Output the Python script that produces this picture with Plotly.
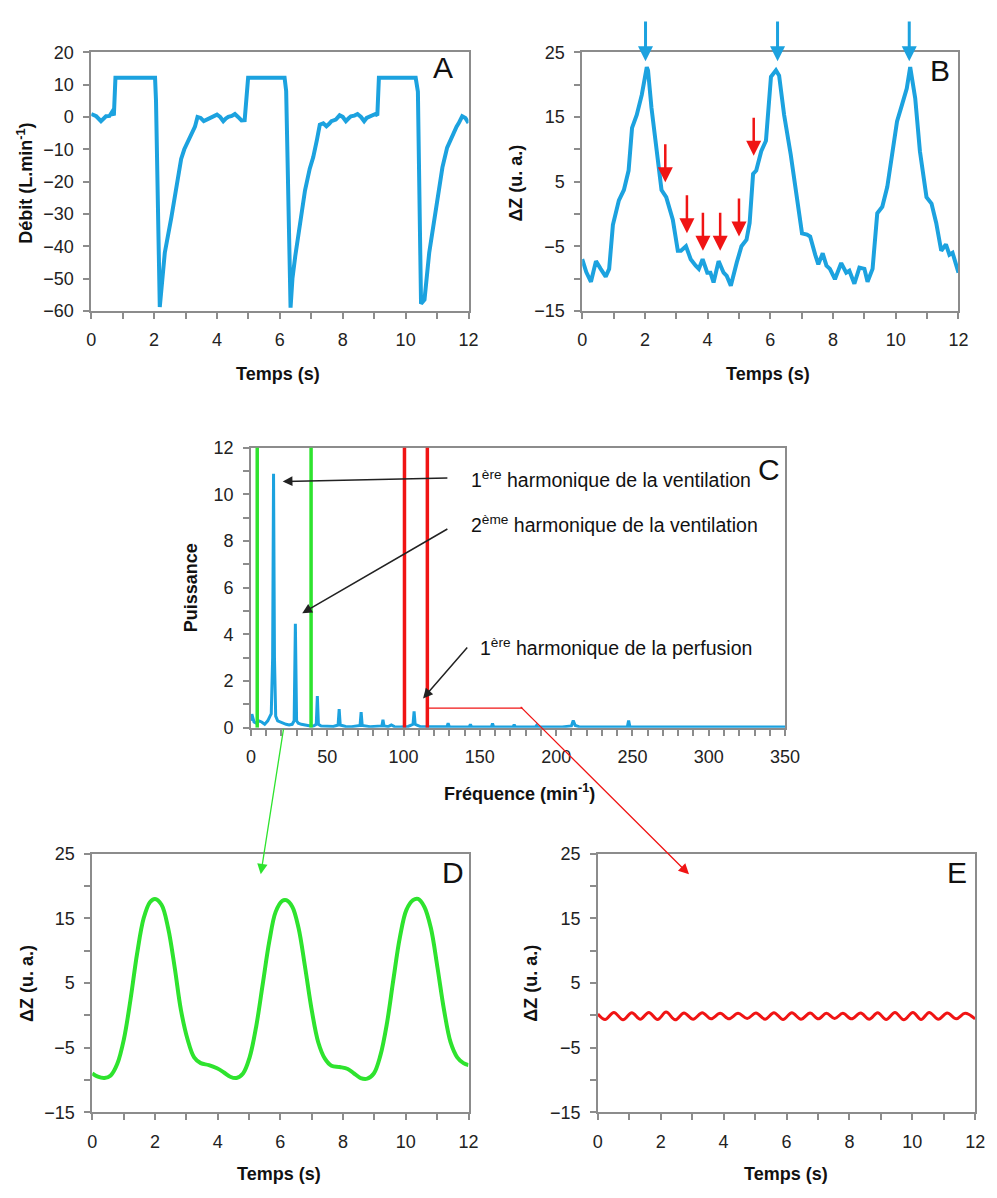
import plotly.graph_objects as go

# ---------------- data ----------------
# Panel A : flow (L/min) vs time (s)
a_t = [0, 0.16, 0.31, 0.47, 0.58, 0.66, 0.72, 0.77, 2.03, 2.06, 2.18, 2.25, 2.34, 2.55, 2.75, 2.86, 2.96,
       3.10, 3.22, 3.30, 3.38, 3.48, 3.58, 3.69, 3.79, 3.90, 4.00, 4.10, 4.20, 4.28, 4.36, 4.47, 4.57,
       4.67, 4.78, 4.88, 4.93, 4.99, 6.15, 6.20, 6.34, 6.40, 6.49, 6.65, 6.80, 6.95, 7.06, 7.18, 7.27,
       7.38, 7.48, 7.56, 7.64, 7.78, 7.90, 8.00, 8.10, 8.18, 8.26, 8.37, 8.47, 8.58, 8.68, 8.76, 8.83,
       8.94, 9.04, 9.10, 9.15, 10.32, 10.39, 10.49, 10.60, 10.75, 10.96, 11.17, 11.32, 11.43, 11.53,
       11.62, 11.69, 11.80, 11.90, 12.0]
a_v = [0.9, 0.2, -1.3, 0.2, 0.3, 1.5, 0.5, 12.1, 12.1, 5, -58.8, -50, -42, -31, -20, -13, -10,
       -7, -4.4, -3, 0, -0.3, -1.3, -0.8, -0.3, 0, 0.7, 0, -1.3, -0.5, 0, 0.3, 0.9,
       0, -1.1, -1.0, 5, 12.1, 12.1, 8, -59, -50, -43, -32, -22.7, -16, -12.5, -7, -2.4,
       -2, -2.9, -2.2, -1.3, -0.8, 0.5, 0, -1.3, -0.5, 0.2, 0.4, 0.9, 0, -1.3, -0.3, 0,
       0.3, 0.9, 0.5, 12.1, 12.1, 7.8, -57.8, -56.5, -42, -27.8, -15.6, -9.5, -7, -4.4,
       -3, -1.9, 0.2, -0.3, -1.9]

# Panel B : impedance variation (u.a.) vs time (s)
b_t = [0, 0.13, 0.28, 0.44, 0.59, 0.75, 0.86, 0.98, 1.17, 1.33, 1.48, 1.59, 1.74, 1.90, 2.06, 2.10,
       2.21, 2.37, 2.53, 2.68, 2.89, 3.05, 3.15, 3.31, 3.46, 3.62, 3.72, 3.84, 3.99, 4.09, 4.19, 4.35,
       4.51, 4.61, 4.74, 4.93, 5.08, 5.24, 5.34, 5.45, 5.55, 5.71, 5.86, 6.02, 6.18, 6.28, 6.44, 6.65,
       6.86, 7.01, 7.17, 7.27, 7.43, 7.53, 7.67, 7.79, 7.90, 8.06, 8.26, 8.42, 8.52, 8.68, 8.84, 9.00,
       9.10, 9.26, 9.41, 9.57, 9.73, 9.88, 10.04, 10.20, 10.35, 10.46, 10.62, 10.77, 10.98, 11.14,
       11.29, 11.45, 11.60, 11.71, 11.81, 12.0]
b_v = [-7.0, -9.0, -10.5, -7.3, -8.5, -9.7, -8.5, -1.7, 2.1, 3.7, 6.7, 13.3, 15.3, 18.4, 22.7, 22.2,
       16.4, 10.3, 3.7, 2.6, -0.9, -5.7, -5.7, -5.0, -7.0, -8.0, -8.5, -7.0, -9.1, -9.1, -10.6, -7.3,
       -9.1, -9.6, -11.1, -7.5, -5.0, -4.0, -1.4, 6.2, 6.7, 9.7, 11.3, 21.2, 22.2, 21.4, 15.3, 9.2,
       2.6, -3.0, -3.2, -3.5, -6.3, -7.8, -6.1, -8.0, -8.5, -10.1, -7.6, -9.1, -8.8, -10.8, -8.3, -8.5,
       -10.5, -8.5, 0.1, 1.1, 4.2, 9.2, 14.3, 16.9, 19.4, 22.7, 17.9, 9.7, 2.6, 1.6,
       -1.4, -5.7, -4.7, -6.3, -6.0, -9.1]
b_peak_t = [2.02, 6.23, 10.43]            # blue arrows (peaks)
b_cardiac_t = [2.65, 3.34, 3.85, 4.40, 5.00, 5.47]   # red arrows (cardiac beats)
b_cardiac_v = [4.9, -3.0, -5.7, -5.7, -3.5, 9.0]

# Panel C : power spectrum
c_f = [0, 0.6, 2, 3.5, 5, 7, 9, 11, 12.5, 13.3, 14.2, 14.8, 15.4, 16.2, 17.5, 19, 21, 23, 25, 27,
       28.3, 29.1, 29.9, 31, 33, 35, 37, 39, 41, 42.8, 43.5, 44.2, 46, 50, 54, 57.1, 57.8, 58.5, 62,
       66, 71.5, 72.2, 72.9, 78, 82, 85.8, 86.5, 87.2, 90, 92, 94, 98, 103, 106.2, 106.9, 107.6, 111,
       118, 124, 128.5, 129.2, 130, 136, 143, 143.8, 144.6, 152, 157.6, 158.3, 159, 166, 171.8, 172.5,
       173.2, 180, 186.5, 187.2, 188, 196, 204, 210, 211.2, 212.5, 215, 225, 235, 246.7, 247.5, 248.3,
       255, 270, 290, 310, 330, 350]
c_p = [0.3, 0.58, 0.25, 0.2, 0.3, 0.25, 0.15, 0.3, 0.5, 0.6, 3.0, 10.88, 3.0, 0.5, 0.3, 0.25, 0.2,
       0.15, 0.12, 0.15, 0.3, 4.46, 0.3, 0.2, 0.15, 0.12, 0.1, 0.08, 0.08, 0.15, 1.36, 0.15, 0.08,
       0.06, 0.06, 0.12, 0.8, 0.12, 0.06, 0.05, 0.1, 0.67, 0.1, 0.05, 0.05, 0.08, 0.35, 0.08, 0.05,
       0.12, 0.05, 0.04, 0.06, 0.15, 0.7, 0.15, 0.05, 0.04, 0.04, 0.05, 0.2, 0.05, 0.04, 0.04, 0.14,
       0.04, 0.04, 0.05, 0.18, 0.05, 0.04, 0.04, 0.14, 0.04, 0.03, 0.04, 0.1, 0.04, 0.03, 0.04, 0.08,
       0.31, 0.1, 0.05, 0.03, 0.03, 0.05, 0.31, 0.05, 0.03, 0.03, 0.03, 0.03, 0.03, 0.03]
green_band = [4.1, 39.4]     # ventilation filter band (min-1)
red_band = [100.6, 115.6]    # perfusion filter band (min-1)
c_labels = ["1<sup>ère</sup> harmonique de la ventilation",
            "2<sup>ème</sup> harmonique de la ventilation",
            "1<sup>ère</sup> harmonique de la perfusion"]
c_label_pos = [(142.6, 10.65), (142.6, 8.72), (149.0, 3.45)]
c_arrow_tip = [(20.8, 10.55), (33.6, 4.91), (112.8, 1.26)]
c_arrow_tail = [(129.7, 10.70), (129.7, 8.55), (142.6, 3.50)]

# Panel D : ventilation-filtered signal
d_t = [0, 0.18, 0.39, 0.59, 0.80, 1.01, 1.22, 1.43, 1.64, 1.84, 2.00, 2.21, 2.42, 2.63, 2.83, 3.04,
       3.25, 3.46, 3.72, 3.98, 4.19, 4.40, 4.60, 4.81, 5.02, 5.23, 5.44, 5.65, 5.85, 6.06, 6.19, 6.38,
       6.58, 6.79, 7.00, 7.21, 7.42, 7.63, 7.89, 8.15, 8.35, 8.56, 8.77, 8.98, 9.19, 9.40, 9.60, 9.81,
       10.02, 10.23, 10.39, 10.59, 10.80, 11.01, 11.22, 11.43, 11.64, 11.84, 12.0]
d_v = [-9.0, -9.5, -9.7, -9.3, -7.5, -3.7, 2.4, 9.5, 15.0, 17.5, 18.0, 17.1, 13.5, 7.4, 0.8, -3.7,
       -6.5, -7.4, -7.7, -8.2, -8.8, -9.5, -9.7, -9.0, -6.5, -1.7, 4.9, 11.5, 16.0, 17.7, 17.8, 16.8,
       13.5, 7.4, 0.8, -4.2, -6.7, -7.8, -8.0, -8.3, -9.0, -9.7, -9.8, -9.0, -6.2, -1.2, 5.4, 12.0,
       16.3, 17.8, 18.0, 16.8, 13.5, 7.4, 0.8, -4.2, -6.5, -7.4, -7.7]

# Panel E : perfusion-filtered signal
e_t = [0, 0.23, 0.51, 0.80, 1.08, 1.35, 1.62, 1.90, 2.17, 2.46, 2.74, 3.03, 3.32, 3.60, 3.89, 4.17,
       4.46, 4.75, 5.03, 5.32, 5.60, 5.89, 6.17, 6.46, 6.75, 7.01, 7.27, 7.53, 7.79, 8.07, 8.36, 8.63,
       8.90, 9.17, 9.45, 9.73, 10.02, 10.28, 10.54, 10.83, 11.11, 11.40, 11.68, 12.0]
e_v = [0.2, -0.65, 0.45, -0.7, 0.4, -0.6, 0.45, -0.65, 0.5, -0.7, 0.35, -0.6, 0.4, -0.55, 0.3, -0.55,
       0.3, -0.5, 0.35, -0.6, 0.4, -0.65, 0.4, -0.6, 0.35, -0.55, 0.3, -0.5, 0.3, -0.55, 0.35, -0.6,
       0.4, -0.65, 0.45, -0.7, 0.45, -0.65, 0.45, -0.6, 0.35, -0.55, 0.3, -0.55]

# ---------------- style ----------------
W, H = 997, 1198
BLUE = "#1ca2df"
GREEN = "#2ee32e"
RED = "#f01414"
GREY = "#8c8c8c"
FONT = "Liberation Sans, Arial, sans-serif"
TICKFONT = dict(family=FONT, size=18, color="#222222")


def px(x, y):
    return x / W, 1 - y / H


# plot boxes in pixels: left, right, top, bottom
boxes = {
    "A": (88, 473, 43, 306),
    "B": (589, 973, 43, 306),
    "C": (251, 796, 445, 730),
    "D": (89, 473, 858, 1121),
    "E": (605, 990, 858, 1121),
}


def dom(key):
    l, r, t, b = boxes[key]
    return [l / W, r / W], [1 - b / H, 1 - t / H]


fig = go.Figure()
fig.add_trace(go.Scatter(x=a_t, y=a_v, mode="lines", line=dict(color=BLUE, width=4), xaxis="x", yaxis="y"))
fig.add_trace(go.Scatter(x=b_t, y=b_v, mode="lines", line=dict(color=BLUE, width=4), xaxis="x2", yaxis="y2"))
fig.add_trace(go.Scatter(x=c_f, y=c_p, mode="lines", line=dict(color=BLUE, width=3), xaxis="x3", yaxis="y3"))
fig.add_trace(go.Scatter(x=d_t, y=d_v, mode="lines", line=dict(color=GREEN, width=4, shape="spline"),
                         xaxis="x4", yaxis="y4"))
fig.add_trace(go.Scatter(x=e_t, y=e_v, mode="lines", line=dict(color=RED, width=3, shape="spline"),
                         xaxis="x5", yaxis="y5"))


def xaxis(key, rng, dtick, minor_dtick, anchor):
    d, _ = dom(key)
    ax = dict(domain=d, range=rng, anchor=anchor, showline=True, mirror=True, linecolor=GREY, linewidth=1.5,
              ticks="outside", ticklen=6, tickcolor=GREY, tickwidth=1.5, dtick=dtick, tick0=0,
              showgrid=False, zeroline=False, tickfont=TICKFONT, ticklabelstandoff=6, fixedrange=True)
    if minor_dtick:
        ax["minor"] = dict(dtick=minor_dtick, tick0=0, ticks="outside", ticklen=6, tickcolor=GREY,
                           tickwidth=1.5, showgrid=False)
    return ax


def yaxis(key, rng, dtick, tick0, minor_dtick, anchor):
    _, d = dom(key)
    ax = dict(domain=d, range=rng, anchor=anchor, showline=True, mirror=True, linecolor=GREY, linewidth=1.5,
              ticks="outside", ticklen=6, tickcolor=GREY, tickwidth=1.5, dtick=dtick, tick0=tick0,
              showgrid=False, zeroline=False, tickfont=TICKFONT, ticklabelstandoff=6, fixedrange=True)
    if minor_dtick:
        ax["minor"] = dict(dtick=minor_dtick, tick0=tick0, ticks="outside", ticklen=6, tickcolor=GREY,
                           tickwidth=1.5, showgrid=False)
    return ax


fig.update_layout(
    width=W, height=H, margin=dict(l=0, r=0, t=0, b=0),
    paper_bgcolor="white", plot_bgcolor="white", showlegend=False,
    xaxis=xaxis("A", [0, 12], 2, 1, "y"),
    yaxis=yaxis("A", [-60, 20], 10, 0, None, "x"),
    xaxis2=xaxis("B", [0, 12], 2, 1, "y2"),
    yaxis2=yaxis("B", [-15, 25], 10, -15, 5, "x2"),
    xaxis3=xaxis("C", [0, 350], 50, 10, "y3"),
    yaxis3=yaxis("C", [0, 12], 2, 0, 1, "x3"),
    xaxis4=xaxis("D", [0, 12], 2, 1, "y4"),
    yaxis4=yaxis("D", [-15, 25], 10, -15, 5, "x4"),
    xaxis5=xaxis("E", [0, 12], 2, 1, "y5"),
    yaxis5=yaxis("E", [-15, 25], 10, -15, 5, "x5"),
)

ann = []
TITLEFONT = dict(family=FONT, size=18, color="#111111")


def paper_text(x, y, text, font, angle=0):
    xx, yy = px(x, y)
    ann.append(dict(x=xx, y=yy, xref="paper", yref="paper", text=text, showarrow=False, font=font,
                    textangle=angle, xanchor="center", yanchor="middle"))


# axis titles
paper_text(20, 176, "<b>Débit (L.min<sup>-1</sup>)</b>", TITLEFONT, -90)
paper_text(279, 370, "<b>Temps (s)</b>", TITLEFONT)
paper_text(522, 176, "<b>ΔZ (u. a.)</b>", TITLEFONT, -90)
paper_text(779, 370, "<b>Temps (s)</b>", TITLEFONT)
paper_text(190, 588, "<b>Puissance</b>", TITLEFONT, -90)
paper_text(525, 796, "<b>Fréquence (min<sup>-1</sup>)</b>", TITLEFONT)
paper_text(23, 990, "<b>ΔZ (u. a.)</b>", TITLEFONT, -90)
paper_text(280, 1184, "<b>Temps (s)</b>", TITLEFONT)
paper_text(537, 990, "<b>ΔZ (u. a.)</b>", TITLEFONT, -90)
paper_text(797, 1184, "<b>Temps (s)</b>", TITLEFONT)

# panel letters
LETTERFONT = dict(family=FONT, size=30, color="#111111")
for letter, (lx, ly) in {"A": (447, 58), "B": (954, 62), "C": (780, 467), "D": (457, 877), "E": (971, 877)}.items():
    paper_text(lx, ly, letter, LETTERFONT)

# B arrows
for t in b_peak_t:
    ann.append(dict(x=t, y=23.6, xref="x2", yref="y2", ax=t, ay=30.0, axref="x2", ayref="y2",
                    showarrow=True, arrowhead=2, arrowsize=1.0, arrowwidth=3, arrowcolor=BLUE, text=""))
for t, v in zip(b_cardiac_t, b_cardiac_v):
    ann.append(dict(x=t, y=v, xref="x2", yref="y2", ax=t, ay=v + 6.1, axref="x2", ayref="y2",
                    showarrow=True, arrowhead=2, arrowsize=1.2, arrowwidth=2.5, arrowcolor=RED, text=""))

# C labels + arrows
CFONT = dict(family=FONT, size=19.5, color="#111111")
for text, (tx, ty) in zip(c_labels, c_label_pos):
    ann.append(dict(x=tx, y=ty, xref="x3", yref="y3", text=text, showarrow=False, font=CFONT,
                    xanchor="left", yanchor="middle"))
for (hx, hy), (tx, ty) in zip(c_arrow_tip, c_arrow_tail):
    ann.append(dict(x=hx, y=hy, xref="x3", yref="y3", ax=tx, ay=ty, axref="x3", ayref="y3",
                    showarrow=True, arrowhead=2, arrowsize=1.3, arrowwidth=1.5, arrowcolor="#222222", text=""))

# C filter band lines
shapes = []
for f in green_band:
    shapes.append(dict(type="line", xref="x3", yref="y3", x0=f, x1=f, y0=0, y1=12,
                       line=dict(color=GREEN, width=3.5)))
for f in red_band:
    shapes.append(dict(type="line", xref="x3", yref="y3", x0=f, x1=f, y0=0, y1=12,
                       line=dict(color=RED, width=3.5)))

# connectors C -> D and C -> E
red_knee_f, red_knee_p = 178.0, 0.84
shapes.append(dict(type="line", xref="x3", yref="y3", x0=red_band[1], x1=red_knee_f, y0=red_knee_p,
                   y1=red_knee_p, line=dict(color=RED, width=1.3)))
cl, cr, ct, cb = boxes["C"]
knee_px = (cl + red_knee_f / 350 * (cr - cl), cb - red_knee_p / 12 * (cb - ct))
red_tip = (698, 879)
rx, ry = px(*red_tip)
ann.append(dict(x=rx, y=ry, xref="paper", yref="paper", ax=knee_px[0] - red_tip[0], ay=knee_px[1] - red_tip[1],
                showarrow=True, arrowhead=2, arrowsize=1.6, arrowwidth=1.3, arrowcolor=RED, text=""))
green_tip = (261, 879)
green_tail = (284, 732)
gx, gy = px(*green_tip)
ann.append(dict(x=gx, y=gy, xref="paper", yref="paper", ax=green_tail[0] - green_tip[0],
                ay=green_tail[1] - green_tip[1], showarrow=True, arrowhead=2, arrowsize=1.6, arrowwidth=1.3,
                arrowcolor=GREEN, text=""))

fig.update_layout(annotations=ann, shapes=shapes)

fig.write_html("out.html", config={"displayModeBar": False},
               post_script="document.body.style.margin='0';document.body.style.overflow='hidden';")
